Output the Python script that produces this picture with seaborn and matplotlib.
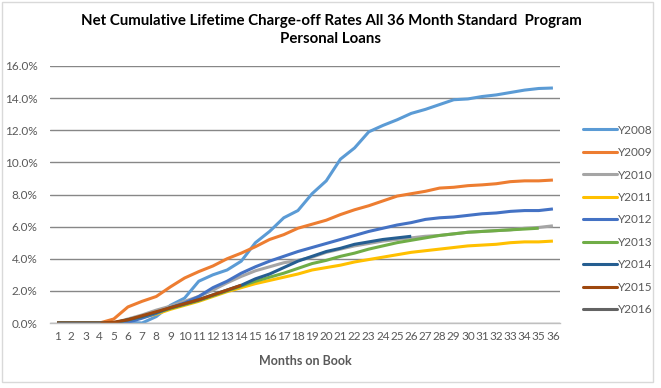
import matplotlib
matplotlib.use("Agg")
import matplotlib.pyplot as plt
import seaborn as sns
import pandas as pd
from matplotlib.patches import Rectangle
from matplotlib.lines import Line2D
from matplotlib.ticker import FuncFormatter, FixedLocator

months = list(range(1, 37))
series_names = ["Y2008", "Y2009", "Y2010", "Y2011", "Y2012", "Y2013", "Y2014", "Y2015", "Y2016"]

y2008 = [0, 0, 0, 0, 0, 0.05, 0, 0.4, 1.1, 1.55, 2.6, 3.0, 3.3, 3.85, 5.0, 5.7, 6.55, 7.0,
         8.05, 8.85, 10.2, 10.9, 11.9, 12.3, 12.65, 13.05, 13.3, 13.6, 13.9, 13.95, 14.1, 14.2,
         14.35, 14.5, 14.6, 14.63]
y2009 = [0, 0, 0, 0, 0.25, 1.0, 1.35, 1.65, 2.25, 2.8, 3.2, 3.55, 4.0, 4.35, 4.75, 5.2, 5.5, 5.9,
         6.15, 6.4, 6.75, 7.05, 7.3, 7.6, 7.9, 8.05, 8.2, 8.4, 8.45, 8.55, 8.6, 8.67, 8.8, 8.85,
         8.85, 8.9]
y2010 = [0, 0, 0, 0, 0, 0.25, 0.5, 0.8, 1.05, 1.35, 1.65, 2.05, 2.5, 2.9, 3.25, 3.5, 3.75, 3.9,
         4.1, 4.4, 4.6, 4.8, 4.95, 5.1, 5.2, 5.3, 5.4, 5.45, 5.55, 5.65, 5.7, 5.75, 5.8, 5.9,
         5.95, 6.05]
y2011 = [0, 0, 0, 0, 0, 0.15, 0.35, 0.55, 0.85, 1.1, 1.35, 1.65, 1.95, 2.2, 2.45, 2.65, 2.85, 3.05,
         3.3, 3.45, 3.6, 3.8, 3.95, 4.1, 4.25, 4.4, 4.5, 4.6, 4.7, 4.8, 4.85, 4.9, 5.0, 5.05,
         5.05, 5.1]
y2012 = [0, 0, 0, 0, 0, 0.05, 0.3, 0.6, 0.95, 1.25, 1.65, 2.2, 2.6, 3.1, 3.5, 3.85, 4.15, 4.45,
         4.7, 4.95, 5.2, 5.45, 5.7, 5.9, 6.1, 6.25, 6.45, 6.55, 6.6, 6.7, 6.8, 6.85, 6.95, 7.0,
         7.0, 7.1]
y2013 = [0, 0, 0, 0, 0, 0.2, 0.4, 0.65, 0.9, 1.15, 1.4, 1.7, 2.0, 2.3, 2.6, 2.85, 3.1, 3.4,
         3.7, 3.9, 4.15, 4.35, 4.6, 4.8, 5.0, 5.15, 5.3, 5.45, 5.55, 5.65, 5.7, 5.75, 5.8, 5.85,
         5.9]
y2014 = [0, 0, 0, 0, 0, 0.2, 0.4, 0.65, 0.95, 1.2, 1.45, 1.75, 2.05, 2.35, 2.75, 3.05, 3.45, 3.85,
         4.15, 4.45, 4.65, 4.9, 5.05, 5.2, 5.3, 5.4]
y2015 = [0, 0, 0, 0, 0.05, 0.2, 0.45, 0.7, 0.95, 1.2, 1.45, 1.75, 2.05, 2.35]
y2016 = [0, 0, 0, 0]

values = [y2008, y2009, y2010, y2011, y2012, y2013, y2014, y2015, y2016]
colors = ["#5B9BD5", "#ED7D31", "#A5A5A5", "#FFC000", "#4472C4", "#70AD47", "#255E91", "#9E480E", "#636363"]
y_ticks = [0, 2, 4, 6, 8, 10, 12, 14, 16]

title = "Net Cumulative Lifetime Charge-off Rates All 36 Month Standard  Program\nPersonal Loans"
x_label = "Months on Book"

rows = []
for name, vals in zip(series_names, values):
    for m, v in zip(months, vals):
        rows.append({"Month": m, "Rate": v, "Series": name})
df = pd.DataFrame(rows)

sns.set_theme(style="white")
plt.rcParams["font.family"] = ["Lato", "DejaVu Sans"]

W, H = 661, 388
fig = plt.figure(figsize=(W / 100, H / 100), dpi=100)
ax = fig.add_axes([50 / W, 1 - 323 / H, (560 - 50) / W, (323 - 66) / H])

palette = dict(zip(series_names, colors))
sns.lineplot(data=df, x="Month", y="Rate", hue="Series", hue_order=series_names,
             palette=palette, linewidth=2.2, legend=False, ax=ax, sort=False)
for line in ax.get_lines():
    line.set_solid_joinstyle("round")
    line.set_solid_capstyle("butt")

ax.set_xlim(0.5, 36.5)
ax.set_ylim(0, 16)
ax.set_yticks(y_ticks)
ax.yaxis.set_major_formatter(FuncFormatter(lambda v, p: f"{v:.1f}%"))
ax.set_xticks(months)
ax.set_xticklabels([str(m) for m in months])
ax.xaxis.set_minor_locator(FixedLocator([m + 0.5 for m in range(0, 37)]))

grid_c = "#878787"
ax.grid(axis="y", color=grid_c, linewidth=1.0)
ax.grid(axis="x", visible=False)
ax.set_axisbelow(True)
for s in ["top", "right", "left"]:
    ax.spines[s].set_visible(False)
ax.spines["bottom"].set_color("#BFBFBF")
ax.spines["bottom"].set_linewidth(1.0)

ax.tick_params(axis="x", which="major", length=0, pad=6, labelsize=8.5, labelcolor="#595959")
ax.tick_params(axis="x", which="minor", length=4, width=0.8, color="#BFBFBF")
ax.tick_params(axis="y", length=0, pad=9, labelsize=8.5, labelcolor="#595959")

ax.set_xlabel(x_label, fontsize=9, fontweight="bold", color="#595959", labelpad=9)
ax.set_ylabel("")

fig.text(331 / W, 1 - 30 / H, title, ha="center", va="center", fontsize=10.8,
         fontweight="bold", color="black", linespacing=1.4)

handles = [Line2D([0], [0], color=c, lw=2.2) for c in colors]
fig.legend(handles, series_names, loc="upper left",
           bbox_to_anchor=(572 / W, 1 - 114 / H), frameon=False,
           handlelength=2.9, handletextpad=0.1, labelspacing=0.97,
           prop={"size": 8.5}, labelcolor="#595959")

fig.patches.append(Rectangle((1.5 / W, 1 - 382 / H), (653 - 1.5) / W, (382 - 1.5) / H,
                             transform=fig.transFigure, fill=False,
                             edgecolor="#D9D9D9", linewidth=1.0))

fig.savefig("out.png", dpi=100)
